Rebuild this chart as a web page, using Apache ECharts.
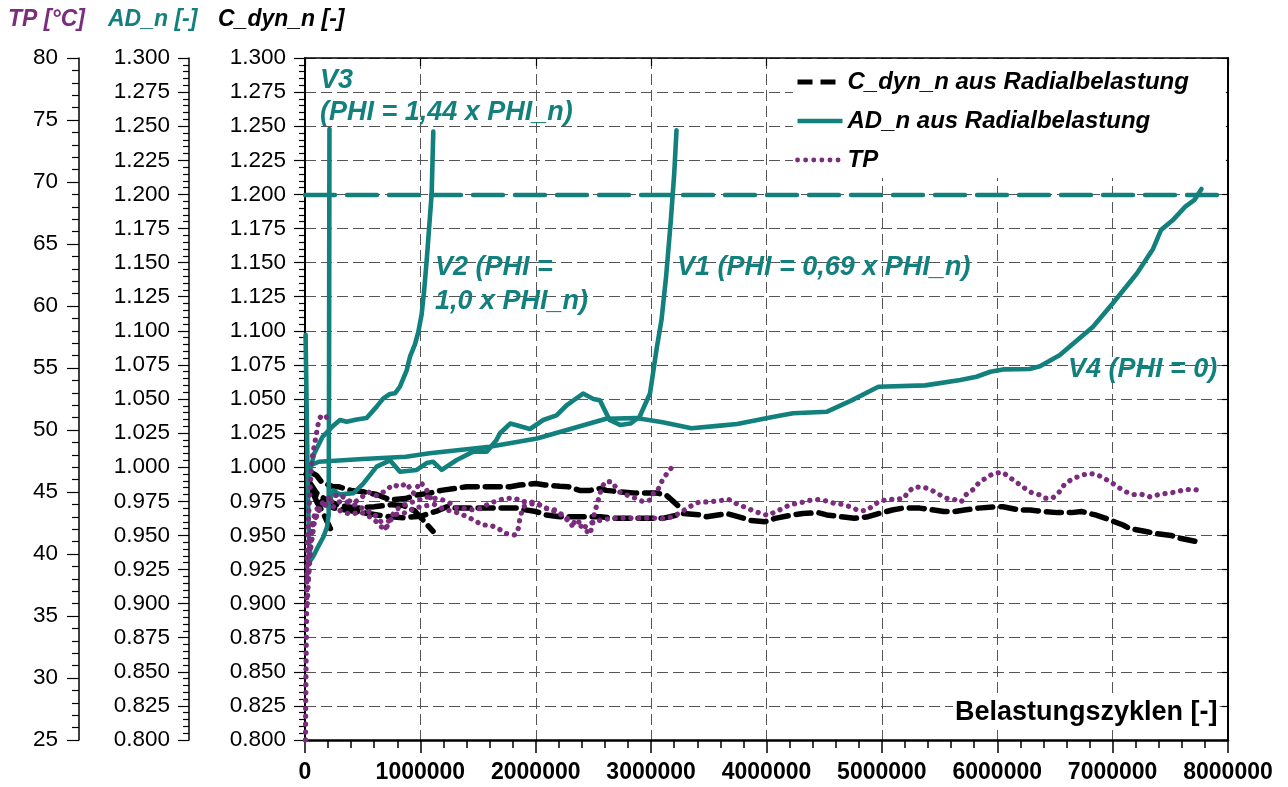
<!DOCTYPE html>
<html>
<head>
<meta charset="utf-8">
<title>Radialbelastung – Dauerlaufversuche</title>
<script src="https://cdn.jsdelivr.net/npm/echarts@6/dist/echarts.min.js"></script>
<style>
  html, body { margin: 0; padding: 0; background: #ffffff; }
  #chart { width: 1288px; height: 787px; }
</style>
</head>
<body>
<div id="chart"></div>
<script>
// ---- Data: [load cycles in millions, value] ----------------------------
const MIO = 1e6;

// Axis ranges / tick labels
const xTicks = [0, 1000000, 2000000, 3000000, 4000000, 5000000, 6000000, 7000000, 8000000];
const ratioRange = [0.8, 1.3];
const tempRange = [25, 80];
const limitAD = 1.2;

// AD_n (normalised damping) per test run
const adV1 = [[0.215,0.975],[0.245,0.983],[0.30,0.980],[0.42,0.981],[0.505,0.988],[0.621,1.0004],[0.737,1.005],[0.823,0.9967],[0.968,0.998],[1.054,1.003],[1.11,1.004],[1.185,0.998],[1.315,1.0053],[1.458,1.0114],[1.575,1.0114],[1.66,1.020],[1.69,1.0249],[1.78,1.032],[1.95,1.028],[2.065,1.0346],[2.18,1.038],[2.27,1.0456],[2.41,1.054],[2.50,1.050],[2.556,1.049],[2.64,1.0346],[2.73,1.031],[2.82,1.032],[2.90,1.037],[2.99,1.054],[3.05,1.088],[3.09,1.108],[3.13,1.14],[3.17,1.18],[3.20,1.215],[3.22,1.247]];
const adV2 = [[0.03,0.99],[0.05,1.0],[0.08,1.01],[0.15,1.022],[0.24,1.03],[0.303,1.0346],[0.361,1.0333],[0.448,1.035],[0.534,1.036],[0.621,1.0444],[0.679,1.0505],[0.737,1.0537],[0.78,1.0542],[0.823,1.059],[0.881,1.071],[0.91,1.081],[0.953,1.09],[0.982,1.099],[1.011,1.112],[1.033,1.13],[1.055,1.152],[1.078,1.178],[1.098,1.2008],[1.112,1.246]];
const adV3 = [[0.005,1.097],[0.015,1.04],[0.025,0.98],[0.035,0.945],[0.05,0.932],[0.08,0.936],[0.115,0.942],[0.16,0.949],[0.19,0.956],[0.205,0.965],[0.208,1.05],[0.210,1.15],[0.212,1.248]];
const adV4 = [[0.05,1.0015],[0.12,1.004],[0.5,1.006],[0.875,1.0077],[1.08,1.0102],[1.6,1.015],[2.01,1.021],[2.3,1.028],[2.61,1.0355],[2.87,1.036],[3.1,1.033],[3.35,1.0285],[3.6,1.0305],[3.745,1.0317],[4.064,1.037],[4.23,1.0395],[4.525,1.0407],[4.738,1.049],[4.97,1.059],[5.376,1.060],[5.68,1.064],[5.82,1.0663],[5.94,1.070],[6.05,1.0717],[6.28,1.072],[6.37,1.074],[6.54,1.082],[6.83,1.103],[7.00,1.120],[7.21,1.142],[7.35,1.160],[7.42,1.174],[7.52,1.181],[7.63,1.191],[7.71,1.196],[7.77,1.204]];

// C_dyn_n (normalised dynamic stiffness) per test run
const cV1 = [[0.04,0.9967],[0.10,0.994],[0.145,0.989],[0.245,0.9857],[0.29,0.9857],[0.40,0.983],[0.505,0.982],[0.62,0.980],[0.74,0.976],[0.87,0.977],[0.97,0.9796],[1.08,0.981],[1.18,0.983],[1.31,0.9845],[1.40,0.9857],[1.55,0.9857],[1.78,0.9857],[1.86,0.987],[2.0,0.988],[2.08,0.987],[2.21,0.986],[2.28,0.9857],[2.38,0.983],[2.47,0.983],[2.56,0.9845],[2.61,0.983],[2.73,0.982],[2.87,0.981],[3.05,0.981],[3.13,0.9796],[3.23,0.972]];
const cV2 = [[0.03,0.99],[0.10,0.981],[0.20,0.975],[0.30,0.972],[0.45,0.970],[0.60,0.971],[0.75,0.9725],[0.85,0.972],[0.95,0.968],[1.025,0.961],[1.11,0.953]];
const cV3 = [[0.01,0.995],[0.05,0.985],[0.10,0.975],[0.16,0.966],[0.22,0.955]];
const cV4 = [[0.02,0.988],[0.08,0.980],[0.15,0.974],[0.25,0.970],[0.40,0.968],[0.55,0.966],[0.70,0.964],[0.85,0.963],[1.0,0.964],[1.15,0.968],[1.23,0.971],[1.31,0.970],[1.5,0.970],[1.66,0.970],[1.83,0.970],[1.89,0.969],[2.0,0.9675],[2.09,0.965],[2.21,0.9637],[2.47,0.9637],[2.56,0.9637],[2.7,0.9625],[3.1,0.9625],[3.28,0.966],[3.42,0.965],[3.48,0.9637],[3.657,0.966],[3.806,0.9625],[3.866,0.961],[3.985,0.960],[4.075,0.9625],[4.224,0.965],[4.313,0.966],[4.448,0.9667],[4.522,0.965],[4.642,0.9637],[4.761,0.9625],[4.881,0.9637],[4.97,0.966],[5.09,0.9686],[5.179,0.970],[5.328,0.970],[5.418,0.969],[5.537,0.9675],[5.627,0.9675],[5.716,0.9686],[5.836,0.970],[5.985,0.971],[6.05,0.971],[6.194,0.9686],[6.284,0.9686],[6.403,0.9675],[6.522,0.9667],[6.642,0.9667],[6.731,0.9675],[6.851,0.965],[6.94,0.9625],[7.09,0.9576],[7.149,0.955],[7.30,0.9527],[7.358,0.9515],[7.507,0.950],[7.582,0.948],[7.731,0.9454],[7.76,0.945]];

// TP (temperature, °C) per test run
const tpV1 = [[0.02,36],[0.04,40],[0.07,42.5],[0.12,43.5],[0.19,44.1],[0.25,44.3],[0.30,44.2],[0.36,44.2],[0.42,44.0],[0.48,43.8],[0.53,43.5],[0.59,43.3],[0.65,42.7],[0.70,42.1],[0.72,42.6],[0.77,43.3],[0.82,43.8],[0.90,44.1],[0.97,44.3],[1.05,44.6],[1.12,44.5],[1.20,44.35],[1.26,44.08],[1.32,43.68],[1.37,43.68],[1.46,43.55],[1.52,43.68],[1.60,44.08],[1.68,44.35],[1.75,44.49],[1.82,44.49],[1.89,44.22],[1.95,44.22],[2.01,44.08],[2.09,43.68],[2.17,43.55],[2.21,43.28],[2.30,42.7],[2.40,42.2],[2.47,41.6],[2.49,42.3],[2.51,43.4],[2.53,43.95],[2.57,45.29],[2.60,45.83],[2.66,45.83],[2.72,45.02],[2.76,44.89],[2.82,44.62],[2.87,44.49],[2.93,44.22],[2.99,44.35],[3.02,44.9],[3.05,45.0],[3.10,46.0],[3.16,46.8],[3.22,47.3]];
const tpV2 = [[0.02,38],[0.04,41],[0.07,42.8],[0.10,43.6],[0.16,44.2],[0.22,44.6],[0.30,44.8],[0.36,44.4],[0.42,44.1],[0.48,44.5],[0.55,45.0],[0.62,44.7],[0.68,45.0],[0.71,45.2],[0.765,45.6],[0.82,45.4],[0.88,45.7],[0.94,44.9],[1.0,45.8],[1.04,45.4],[1.07,44.9],[1.10,44.3]];
const tpV3 = [[0.004,25],[0.006,28],[0.009,31],[0.012,34],[0.015,37],[0.018,40],[0.025,42],[0.04,44.5],[0.055,47],[0.067,48.1],[0.08,48.7],[0.095,49.5],[0.11,50.3],[0.124,50.9],[0.145,51.2],[0.167,51.2],[0.19,51.0],[0.21,50.9]];
const tpV4 = [[0.03,38],[0.05,40.5],[0.08,42.5],[0.12,43.6],[0.18,44.0],[0.25,43.8],[0.32,43.4],[0.40,43.2],[0.48,43.4],[0.56,43.0],[0.62,42.6],[0.66,42.2],[0.70,42.0],[0.73,42.6],[0.79,43.2],[0.86,43.3],[0.95,43.7],[1.05,43.9],[1.12,44.0],[1.20,43.6],[1.30,43.4],[1.37,43.15],[1.43,42.9],[1.49,42.6],[1.53,42.34],[1.60,42.34],[1.675,42.07],[1.733,41.67],[1.776,41.59],[1.82,41.53],[1.849,42.07],[1.863,42.88],[1.892,43.82],[1.95,44.0],[2.0,44.1],[2.09,43.7],[2.17,43.4],[2.25,43.0],[2.31,42.3],[2.37,42.6],[2.43,42.2],[2.50,42.6],[2.60,42.8],[2.70,42.9],[2.76,42.9],[2.90,42.9],[3.0,42.9],[3.10,42.85],[3.19,43.0],[3.28,43.5],[3.36,43.95],[3.418,44.2],[3.507,44.2],[3.597,44.3],[3.672,44.4],[3.731,44.1],[3.806,43.8],[3.881,43.5],[3.94,43.3],[4.015,43.1],[4.075,43.4],[4.149,43.7],[4.209,44.0],[4.284,44.1],[4.358,44.3],[4.433,44.4],[4.507,44.3],[4.582,44.1],[4.657,44.0],[4.731,43.8],[4.797,43.5],[4.866,43.5],[4.91,43.8],[4.97,44.2],[5.045,44.4],[5.119,44.4],[5.194,44.5],[5.224,45.0],[5.284,45.4],[5.358,45.4],[5.418,45.2],[5.478,44.9],[5.552,44.5],[5.627,44.4],[5.687,44.2],[5.731,44.8],[5.791,45.2],[5.836,45.7],[5.896,46.1],[5.97,46.5],[6.045,46.6],[6.104,46.2],[6.164,45.8],[6.224,45.4],[6.284,45.0],[6.358,44.8],[6.418,44.5],[6.478,44.5],[6.537,45.0],[6.582,45.6],[6.642,46.0],[6.716,46.3],[6.791,46.5],[6.866,46.4],[6.925,46.1],[6.985,45.8],[7.045,45.4],[7.119,45.0],[7.179,44.8],[7.254,44.8],[7.328,44.6],[7.403,44.8],[7.478,44.9],[7.552,45.0],[7.627,45.2],[7.701,45.2],[7.776,45.1]];

// Annotation texts for the four runs
const runLabels = [
  { text: 'V3', x: 320, y: 81 },
  { text: '(PHI = 1,44 x PHI_n)', x: 320, y: 113 },
  { text: 'V2 (PHI =', x: 435, y: 268 },
  { text: '1,0 x PHI_n)', x: 435, y: 302 },
  { text: 'V1 (PHI = 0,69 x PHI_n)', x: 677, y: 268 },
  { text: 'V4 (PHI = 0)', x: 1068, y: 370 }
];

// ---- Styling --------------------------------------------------------------
const FONT = '"Liberation Sans", Arial, Helvetica, sans-serif';
const TEAL = '#12807c';
const PURPLE = '#7a2c7d';
const BLACK = '#000000';
const GRID_LINE = { show: true, lineStyle: { color: '#555', width: 1, type: [11, 5] } };

const NAME_C = 'C_dyn_n aus Radialbelastung';
const NAME_AD = 'AD_n aus Radialbelastung';
const NAME_TP = 'TP';

const C_LINE = { color: BLACK, width: 5.5, type: [15, 8], cap: 'round' };
const AD_LINE = { color: TEAL, width: 4.6, cap: 'round', join: 'round' };
const TP_LINE = { color: PURPLE, width: 5.2, type: [0.1, 7.8], cap: 'round' };

const toXY = pts => pts.map(([m, v]) => [m * MIO, v]);

function cSeries(pts) {
  return {
    name: NAME_C, type: 'line', xAxisIndex: 0, yAxisIndex: 0, data: toXY(pts),
    symbol: 'none', showSymbol: false, z: 3,
    lineStyle: C_LINE, itemStyle: { color: BLACK }
  };
}
function adSeries(pts, extra) {
  return Object.assign({
    name: NAME_AD, type: 'line', xAxisIndex: 0, yAxisIndex: 1, data: toXY(pts),
    symbol: 'none', showSymbol: false, z: 4,
    lineStyle: AD_LINE, itemStyle: { color: TEAL }
  }, extra || {});
}
function tpSeries(pts) {
  return {
    name: NAME_TP, type: 'line', xAxisIndex: 0, yAxisIndex: 2, data: toXY(pts),
    symbol: 'none', showSymbol: false, z: 5,
    lineStyle: TP_LINE, itemStyle: { color: PURPLE }
  };
}

const limitLine = {
  silent: true, symbol: ['none', 'none'], label: { show: false },
  lineStyle: { color: TEAL, width: 4.4, type: [30, 12], cap: 'round' },
  data: [{ yAxis: limitAD }]
};

const ratioLabel = v => Number(v).toFixed(3);
const HIDDEN_MARK = { color: 'rgba(0,0,0,0)', borderColor: 'rgba(0,0,0,0)', borderWidth: 0, opacity: 0 };

const option = {
  animation: false,
  backgroundColor: '#ffffff',
  textStyle: { fontFamily: FONT },
  grid: { left: 305, right: 60, top: 58, bottom: 47, containLabel: false },
  legend: {
    orient: 'vertical', left: 793, top: 59,
    padding: [11, 37, 6, 2], backgroundColor: '#ffffff',
    itemWidth: 45, itemHeight: 14, itemGap: 15,
    selectedMode: false,
    textStyle: { fontFamily: FONT, fontSize: 24, fontWeight: 'bold', fontStyle: 'italic', color: BLACK, lineHeight: 24 },
    itemStyle: HIDDEN_MARK,
    data: [
      { name: NAME_C, itemStyle: HIDDEN_MARK, lineStyle: { color: BLACK, width: 5, type: [15, 8], cap: 'butt' } },
      { name: NAME_AD, itemStyle: HIDDEN_MARK, lineStyle: { color: TEAL, width: 4.4, type: 'solid', cap: 'butt' } },
      { name: NAME_TP, itemStyle: HIDDEN_MARK, lineStyle: { color: PURPLE, width: 4.8, type: [0.1, 8], cap: 'round' } }
    ]
  },
  xAxis: [
    {
      type: 'value', position: 'bottom',
      min: xTicks[0], max: xTicks[xTicks.length - 1], interval: xTicks[1] - xTicks[0],
      axisLine: { show: true, onZero: false, lineStyle: { color: BLACK, width: 2.5 } },
      axisTick: { show: true, length: 13, lineStyle: { color: BLACK, width: 1.5 } },
      minorTick: { show: true, splitNumber: 5, length: 8, lineStyle: { color: BLACK, width: 1.5 } },
      axisLabel: { margin: 21, color: BLACK, fontFamily: FONT, fontSize: 23, fontWeight: 'bold', formatter: v => String(Math.round(v)) },
      splitLine: GRID_LINE
    },
    {
      type: 'value', position: 'top',
      min: xTicks[0], max: xTicks[xTicks.length - 1], interval: xTicks[1] - xTicks[0],
      axisLine: { show: true, onZero: false, lineStyle: { color: BLACK, width: 1.5 } },
      axisTick: { show: true, inside: true, length: 8, lineStyle: { color: BLACK, width: 1.2 } },
      axisLabel: { show: false }, splitLine: { show: false }
    }
  ],
  yAxis: [
    { // C_dyn_n
      type: 'value', position: 'left', offset: 0,
      min: ratioRange[0], max: ratioRange[1], interval: 0.025,
      axisLine: { show: true, onZero: false, lineStyle: { color: BLACK, width: 2 } },
      axisTick: { show: true, length: 11, lineStyle: { color: BLACK, width: 1.2 } },
      minorTick: { show: true, splitNumber: 5, length: 6, lineStyle: { color: BLACK, width: 1.2 } },
      axisLabel: { margin: 19, color: BLACK, fontFamily: FONT, fontSize: 22.5, formatter: ratioLabel },
      splitLine: GRID_LINE
    },
    { // AD_n
      type: 'value', position: 'left', offset: 116,
      min: ratioRange[0], max: ratioRange[1], interval: 0.025,
      axisLine: { show: true, onZero: false, lineStyle: { color: BLACK, width: 1.5 } },
      axisTick: { show: true, length: 11, lineStyle: { color: BLACK, width: 1.2 } },
      minorTick: { show: true, splitNumber: 5, length: 6, lineStyle: { color: BLACK, width: 1.2 } },
      axisLabel: { margin: 19, color: BLACK, fontFamily: FONT, fontSize: 22.5, formatter: ratioLabel },
      splitLine: { show: false }
    },
    { // TP
      type: 'value', position: 'left', offset: 226,
      min: tempRange[0], max: tempRange[1], interval: 5,
      axisLine: { show: true, onZero: false, lineStyle: { color: BLACK, width: 1.5 } },
      axisTick: { show: true, length: 12, lineStyle: { color: BLACK, width: 1.2 } },
      minorTick: { show: true, splitNumber: 5, length: 7, lineStyle: { color: BLACK, width: 1.2 } },
      axisLabel: { margin: 21, color: BLACK, fontFamily: FONT, fontSize: 22.5, formatter: v => String(v) },
      splitLine: { show: false }
    },
    { // right frame
      type: 'value', position: 'right', offset: 0,
      min: ratioRange[0], max: ratioRange[1], interval: 0.025,
      axisLine: { show: true, onZero: false, lineStyle: { color: BLACK, width: 2 } },
      axisTick: { show: true, inside: true, length: 6, lineStyle: { color: BLACK, width: 1.2 } },
      axisLabel: { show: false }, splitLine: { show: false }
    }
  ],
  graphic: [
    { type: 'text', left: 8, top: 8, style: { text: 'TP [°C]', fill: PURPLE, font: 'italic bold 23px ' + FONT } },
    { type: 'text', left: 108, top: 8, style: { text: 'AD_n [-]', fill: TEAL, font: 'italic bold 23px ' + FONT } },
    { type: 'text', left: 218, top: 8, style: { text: 'C_dyn_n [-]', fill: BLACK, font: 'italic bold 23px ' + FONT } },
    {
      type: 'text', left: 953, top: 698, z: 10,
      style: { text: 'Belastungszyklen [-]', fill: BLACK, font: 'bold 27px ' + FONT, backgroundColor: '#ffffff', padding: [1, 2, 1, 2] }
    }
  ].concat(runLabels.map(l => ({
    type: 'text', x: l.x, y: l.y, z: 10,
    style: { text: l.text, fill: TEAL, font: 'italic bold 27px ' + FONT, verticalAlign: 'middle', align: 'left' }
  }))),
  series: [
    cSeries(cV1), cSeries(cV2), cSeries(cV3), cSeries(cV4),
    adSeries(adV1, { markLine: limitLine }), adSeries(adV2), adSeries(adV3), adSeries(adV4),
    tpSeries(tpV1), tpSeries(tpV2), tpSeries(tpV3), tpSeries(tpV4)
  ]
};

const chart = echarts.init(document.getElementById('chart'), null, { renderer: 'canvas' });
chart.setOption(option);
</script>
</body>
</html>
